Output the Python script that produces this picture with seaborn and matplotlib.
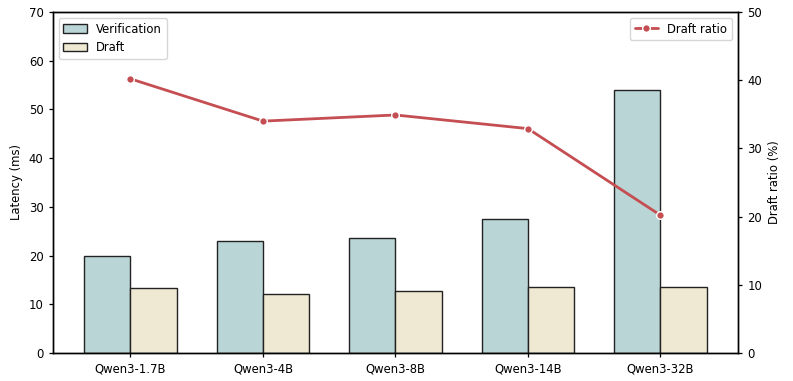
import matplotlib
matplotlib.use("Agg")
import matplotlib.pyplot as plt
import seaborn as sns
import pandas as pd

models = ["Qwen3-1.7B", "Qwen3-4B", "Qwen3-8B", "Qwen3-14B", "Qwen3-32B"]
verification = [20.0, 23.0, 23.6, 27.6, 53.9]
draft = [13.4, 12.1, 12.7, 13.5, 13.5]
draft_ratio = [40.2, 34.0, 34.9, 32.9, 20.2]

sns.set_theme(style="white")
plt.rcParams["font.family"] = ["DejaVu Sans"]
FS = 8.4
plt.rcParams["font.size"] = FS
plt.rcParams["text.color"] = "black"
plt.rcParams["axes.labelcolor"] = "black"
plt.rcParams["xtick.color"] = "black"
plt.rcParams["ytick.color"] = "black"

df = pd.DataFrame({
    "model": models * 2,
    "latency": verification + draft,
    "kind": ["Verification"] * len(models) + ["Draft"] * len(models),
})

fig, ax = plt.subplots(figsize=(7.93, 3.81), dpi=100)
fig.subplots_adjust(left=0.0668, right=0.9306, top=0.9685, bottom=0.0735)

sns.barplot(data=df, x="model", y="latency", hue="kind", ax=ax,
            palette={"Verification": "#bad5d5", "Draft": "#efe8d2"},
            width=0.7, gap=0, edgecolor="#222222", linewidth=1.0,
            saturation=1, errorbar=None)
ax.set_xlim(-0.585, 4.585)
ax.set_ylim(0, 70)
ax.set_xlabel("")
ax.set_ylabel("Latency (ms)", fontsize=FS)
ax.tick_params(axis="both", labelsize=FS, length=3.2, width=0.9, direction="out",
               bottom=True, left=True, colors="black")
for s in ax.spines.values():
    s.set_color("black")
    s.set_linewidth(1.0)
ax.legend(loc="upper left", fontsize=FS, frameon=True, handlelength=2.0)

ax2 = ax.twinx()
sns.lineplot(x=list(range(len(models))), y=draft_ratio, ax=ax2, color="#c44e52",
             linewidth=2, marker="o", markersize=5.5, markeredgecolor="white",
             markeredgewidth=1, label="Draft ratio")
ax2.set_ylim(0, 50)
ax2.set_ylabel("Draft ratio (%)", fontsize=FS)
ax2.tick_params(axis="y", labelsize=FS, length=3.2, width=0.9, right=True, colors="black")
ax2.legend(loc="upper right", fontsize=FS, frameon=True)
for s in ax2.spines.values():
    s.set_color("black")
    s.set_linewidth(1.0)

fig.savefig("out.png", dpi=100)
